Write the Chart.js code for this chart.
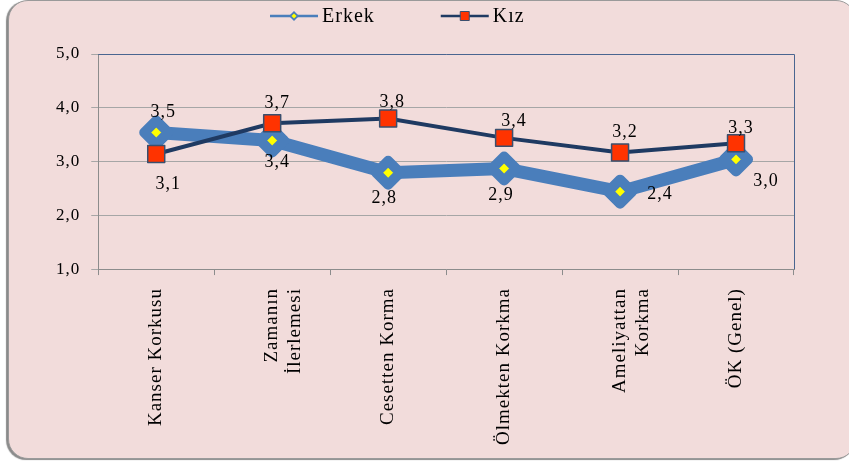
<!DOCTYPE html>
<html>
<head>
<meta charset="utf-8">
<script src="https://cdn.jsdelivr.net/npm/chart.js@4.4.1/dist/chart.umd.min.js"></script>
<style>
   html, body { margin: 0; padding: 0; background: #ffffff; }
   #wrap { position: relative; width: 849px; height: 461px; overflow: hidden; }
   #frame {
      position: absolute; left: 8px; top: 0px; width: 846px; height: 457px;
      background: #f2dcdb; border: 1px solid #9a9a9a; border-radius: 20px;
      box-shadow: -2px 1px 1px #8a8a8a;
   }
   #chart { position: absolute; left: 0; top: 0; }
</style>
</head>
<body>
<div id="wrap">
   <div id="frame"></div>
   <canvas id="chart" width="849" height="461"></canvas>
</div>
<script>
const categories = [
   "Kanser Korkusu",
   ["Zamanın", "İlerlemesi"],
   "Cesetten Korma",
   "Ölmekten Korkma",
   ["Ameliyattan", "Korkma"],
   "ÖK (Genel)",
];
const erkekValues = [3.54, 3.39, 2.79, 2.87, 2.44, 3.04];
const kizValues = [3.14, 3.71, 3.8, 3.44, 3.17, 3.34];
const yTicks = [1, 2, 3, 4, 5];

const SERIF = "'Liberation Serif', 'Times New Roman', serif";
const fmt = (v) => v.toFixed(1).replace(".", ",");

// letter spacing for all canvas text (the source rendering is wide)
const spacing = {
   id: "spacing",
   beforeUpdate(chart) { chart.ctx.letterSpacing = "1px"; },
   beforeDraw(chart) { chart.ctx.letterSpacing = "1px"; },
};

// blue border on top and right of the plot area, round joins for markers
const plotFrame = {
   id: "plotFrame",
   beforeDatasetsDraw(chart) {
      const { ctx, chartArea: a } = chart;
      ctx.save();
      ctx.strokeStyle = "#4a6590";
      ctx.lineWidth = 1;
      ctx.beginPath();
      ctx.moveTo(a.left, a.top + 0.5);
      ctx.lineTo(a.right + 0.5, a.top + 0.5);
      ctx.lineTo(a.right + 0.5, a.bottom);
      ctx.stroke();
      ctx.restore();
      ctx.lineJoin = "round";
   },
};

const valueLabels = {
   id: "valueLabels",
   afterDatasetsDraw(chart, args, opts) {
      const ctx = chart.ctx;
      ctx.save();
      ctx.font = opts.font;
      ctx.fillStyle = "#000";
      ctx.textAlign = "center";
      ctx.textBaseline = "middle";
      chart.data.datasets.forEach((ds, di) => {
         const meta = chart.getDatasetMeta(di);
         const offs = opts.offsets[di];
         meta.data.forEach((pt, i) => {
            ctx.fillText(fmt(ds.data[i]), pt.x + offs[i][0], pt.y + offs[i][1]);
         });
      });
      ctx.restore();
   },
};

function legendMarker(ctx, kind, x, y) {
   ctx.save();
   if (kind === "diamond") {
      ctx.beginPath();
      ctx.moveTo(x, y - 5); ctx.lineTo(x + 5, y); ctx.lineTo(x, y + 5); ctx.lineTo(x - 5, y);
      ctx.closePath();
      ctx.fillStyle = "#4a7ebb";
      ctx.fill();
      ctx.beginPath();
      ctx.moveTo(x, y - 2.5); ctx.lineTo(x + 2.5, y); ctx.lineTo(x, y + 2.5); ctx.lineTo(x - 2.5, y);
      ctx.closePath();
      ctx.fillStyle = "#ffff00";
      ctx.fill();
   } else {
      ctx.fillStyle = "#ff3300";
      ctx.strokeStyle = "#3a4f6e";
      ctx.lineWidth = 1;
      ctx.fillRect(x - 4.5, y - 4.5, 9, 9);
      ctx.strokeRect(x - 4.5, y - 4.5, 9, 9);
   }
   ctx.restore();
}

const lineLegend = {
   id: "lineLegend",
   afterDraw(chart, args, opts) {
      const ctx = chart.ctx;
      ctx.save();
      ctx.font = opts.font;
      ctx.textBaseline = "middle";
      ctx.textAlign = "left";
      let x = opts.x;
      const y = opts.y;
      chart.data.datasets.forEach((ds, di) => {
         ctx.strokeStyle = ds.borderColor;
         ctx.lineWidth = 2.5;
         ctx.beginPath();
         ctx.moveTo(x, y);
         ctx.lineTo(x + opts.lineLength, y);
         ctx.stroke();
         legendMarker(ctx, opts.markers[di], x + opts.lineLength / 2, y);
         x += opts.lineLength + 4;
         ctx.fillStyle = "#000";
         ctx.fillText(ds.label, x, y + 1);
         x += ctx.measureText(ds.label).width + opts.gap;
      });
      ctx.restore();
   },
};

new Chart(document.getElementById("chart"), {
   type: "line",
   data: {
      labels: categories,
      datasets: [
         {
            label: "Erkek",
            data: erkekValues,
            order: 1,
            borderColor: "#4a7ebb",
            borderWidth: 13,
            borderJoinStyle: "round",
            borderCapStyle: "round",
            pointStyle: "rectRot",
            pointRadius: 12,
            pointBorderWidth: 10,
            pointBackgroundColor: "#ffff00",
            pointBorderColor: "#4a7ebb",
            tension: 0,
         },
         {
            label: "Kız",
            data: kizValues,
            order: 0,
            borderColor: "#1f3a62",
            borderWidth: 4,
            pointStyle: "rect",
            pointRadius: 12,
            pointBorderWidth: 1.5,
            pointBackgroundColor: "#ff3300",
            pointBorderColor: "#3a4f6e",
            tension: 0,
         },
      ],
   },
   options: {
      responsive: false,
      animation: false,
      events: [],
      layout: {
         padding: { left: 45, right: 55, top: 54, bottom: 3 },
      },
      plugins: {
         legend: { display: false },
         tooltip: { enabled: false },
         valueLabels: {
            font: "18px " + SERIF,
            offsets: [
               [[7, -20], [5, 22], [-4, 25], [-3, 27], [40, 3], [30, 22]],
               [[12, 30], [5, -20], [4, -16], [10, -17], [5, -20], [5, -15]],
            ],
         },
         lineLegend: {
            font: "20px " + SERIF,
            x: 270,
            y: 16,
            lineLength: 48,
            gap: 66,
            markers: ["diamond", "square"],
         },
      },
      scales: {
         x: {
            offset: true,
            border: { color: "#8c8c8c" },
            grid: {
               offset: true,
               drawOnChartArea: false,
               drawTicks: true,
               tickLength: 6,
               color: "#8c8c8c",
            },
            ticks: {
               autoSkip: false,
               maxRotation: 90,
               minRotation: 90,
               padding: 13,
               color: "#000",
               font: { family: SERIF, size: 19 },
            },
         },
         y: {
            min: yTicks[0],
            max: yTicks[yTicks.length - 1],
            border: { color: "#8c8c8c" },
            grid: { color: "#a6a6a6", tickLength: 7 },
            afterBuildTicks: (axis) => {
               axis.ticks = yTicks.map((v) => ({ value: v }));
            },
            ticks: {
               padding: 11,
               color: "#000",
               font: { family: SERIF, size: 17 },
               callback: (v) => fmt(v),
            },
         },
      },
   },
   plugins: [spacing, plotFrame, valueLabels, lineLegend],
});
</script>
</body>
</html>
